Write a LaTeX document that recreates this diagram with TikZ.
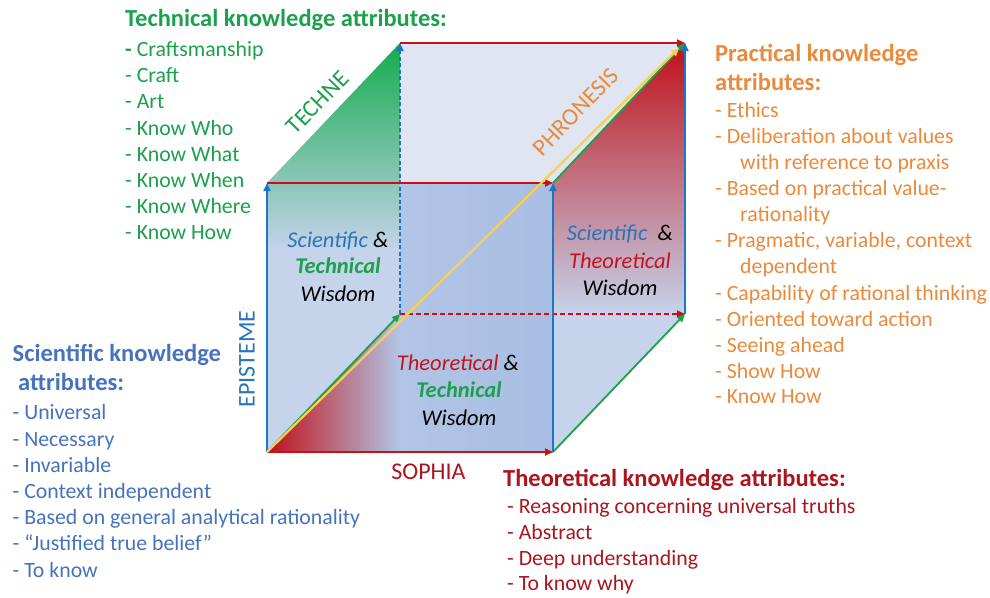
\documentclass[tikz,border=0pt]{standalone}
\usepackage{fontspec}
\setmainfont{Carlito}
\usetikzlibrary{arrows.meta}
\definecolor{tgreen}{RGB}{28,160,78}
\definecolor{porange}{RGB}{233,138,60}
\definecolor{sblue}{RGB}{70,114,190}
\definecolor{eblue}{RGB}{40,116,188}
\definecolor{tred}{RGB}{170,22,32}
\definecolor{ired}{RGB}{196,18,30}
\definecolor{ered}{RGB}{200,16,24}
\definecolor{ebl}{RGB}{28,118,200}
\definecolor{egr}{RGB}{30,160,70}
\definecolor{eyel}{RGB}{250,208,80}
\definecolor{facebl}{RGB}{197,211,235}
\definecolor{topf}{RGB}{223,230,242}
\definecolor{midL}{RGB}{178,197,230}
\definecolor{midM}{RGB}{206,218,240}
\definecolor{midR}{RGB}{168,189,226}
\definecolor{redsh}{RGB}{192,16,24}
\definecolor{grsh}{RGB}{20,172,78}
\begin{document}
\begin{tikzpicture}[x=1pt,y=-1pt,
  item/.style={anchor=base west, inner sep=0pt, font=\fontsize{21.8}{24}\selectfont},
  ttl/.style={anchor=base west, inner sep=0pt, font=\fontsize{24.5}{26}\selectfont\bfseries},
  axlab/.style={inner sep=0pt, font=\fontsize{24}{26}\selectfont},
  wis/.style={anchor=base, inner sep=0pt, font=\fontsize{22.5}{25}\selectfont\itshape},
  tip/.style={-{Triangle[length=8pt,width=7pt]}},
  rarr/.style={draw=ered, line width=1.8pt, tip},
  barr/.style={draw=ebl, line width=1.8pt, tip},
  garr/.style={draw=egr, line width=1.8pt, tip},
  yarr/.style={draw=eyel, line width=2.2pt, tip},
  rdash/.style={rarr, dash pattern=on 5pt off 3pt},
  bdash/.style={barr, dash pattern=on 4pt off 2.5pt},
]
\useasboundingbox (0,0) rectangle (990,597);
\fill[white] (0,0) rectangle (990,597);
% cube corners
\coordinate (A) at (267,452);
\coordinate (B) at (553,452);
\coordinate (C) at (553,183);
\coordinate (D) at (267,183);
\coordinate (E) at (400,314);
\coordinate (F) at (685,314);
\coordinate (G) at (685,43);
\coordinate (H) at (400,43);
\coordinate (Y) at (679,48);
\coordinate (M1) at (400,183);
\coordinate (M2) at (400,452);
\coordinate (M3) at (553,314);
\coordinate (L1) at (400,250);
\coordinate (L2) at (267,250);
% faces
\fill[topf] (D) -- (H) -- (G) -- (C) -- cycle;
\fill[facebl] (A) rectangle (C);
\shade[left color=midL, middle color=midM, right color=midR] (M1) rectangle (B);
\fill[facebl] (B) -- (C) -- (G) -- (F) -- cycle;
\shade[top color=redsh, bottom color=facebl] (C) -- (G) -- (F) -- (M3) -- cycle;
\shade[top color=grsh, bottom color=facebl] (D) -- (H) -- (L1) -- (L2) -- cycle;
\shade[left color=redsh, right color=midL] (A) -- (E) -- (M2) -- cycle;
% edges
\draw[bdash] (E) -- (H);
\draw[rdash] (E) -- (F);
\draw[garr] (A) -- (E);
\draw[garr] (B) -- (F);
\draw[garr] (C) -- (G);
\draw[rarr] (A) -- (B);
\draw[rarr] (D) -- (C);
\draw[rarr] (H) -- (G);
\draw[barr] (A) -- (D);
\draw[barr] (B) -- (C);
\draw[barr] (F) -- (G);
\draw[yarr] (A) -- (Y);
% axis labels
\node[axlab, text=tgreen, rotate=46] (techne) at (317.5,102.5) {TECHNE};
\node[axlab, text=porange, rotate=46] (phron) at (576,112) {PHRONESIS};
\node[axlab, text=eblue, rotate=90] (epis) at (247,359) {EPISTEME};
\node[axlab, text=tred] (soph) at (428.5,472) {SOPHIA};
% inner labels
\node[wis] (w1a) at (338,247) {\textcolor{eblue}{Scientific} \&};
\node[wis, text=tgreen] (w1b) at (338,273.5) {\bfseries Technical};
\node[wis] (w1c) at (338,301.5) {Wisdom};
\node[wis] (w2a) at (620,240.5) {\textcolor{eblue}{Scientific}\ \ \&};
\node[wis, text=ired] (w2b) at (620,268) {Theoretical};
\node[wis] (w2c) at (620,295) {Wisdom};
\node[wis] (w3a) at (458,370) {\textcolor{ired}{Theoretical} \&};
\node[wis, text=tgreen] (w3b) at (459,397) {\bfseries Technical};
\node[wis] (w3c) at (459,425) {Wisdom};
% Technical list
\node[ttl, text=tgreen] (tt) at (125,27) {Technical knowledge attributes:};
\foreach \t/\y [count=\i] in {{{\bfseries -} Craftsmanship}/56.5,{- Craft}/82.7,{- Art}/108.8,{- Know Who}/135,{- Know What}/161.1,{- Know When}/187.2,{- Know Where}/213.3,{- Know How}/239}
  \node[item, text=tgreen] (t\i) at (125,\y) {\t};
% Practical list
\node[ttl, text=porange] (pt1) at (715,61.5) {Practical knowledge};
\node[ttl, text=porange] (pt2) at (715,90) {attributes:};
\foreach \t/\x/\y [count=\i] in {{- Ethics}/715/117,{- Deliberation about values}/715/143,{with reference to praxis}/740/169,{- Based on practical value-}/715/195.5,{rationality}/740/221.5,{- Pragmatic, variable, context}/715/247.5,{dependent}/740/273.5,{- Capability of rational thinking}/715/300,{- Oriented toward action}/715/326,{- Seeing ahead}/715/352,{- Show How}/715/378,{- Know How}/715/403.5}
  \node[item, text=porange] (p\i) at (\x,\y) {\t};
% Scientific list
\node[ttl, text=sblue] (st1) at (12.5,361.5) {Scientific knowledge};
\node[ttl, text=sblue] (st2) at (18,390) {attributes:};
\foreach \t/\y [count=\i] in {{- Universal}/419,{- Necessary}/446,{- Invariable}/472,{- Context independent}/498.3,{- Based on general analytical rationality}/524.5,{- “Justified true belief”}/550.5,{- To know}/577}
  \node[item, text=sblue] (s\i) at (12.5,\y) {\t};
% Theoretical list
\node[ttl, text=tred] (rt) at (503,486) {Theoretical knowledge attributes:};
\foreach \t/\y [count=\i] in {{- Reasoning concerning universal truths}/513,{- Abstract}/539,{- Deep understanding}/565,{- To know why}/590.5}
  \node[item, text=tred] (r\i) at (507,\y) {\t};
\end{tikzpicture}
\end{document}
